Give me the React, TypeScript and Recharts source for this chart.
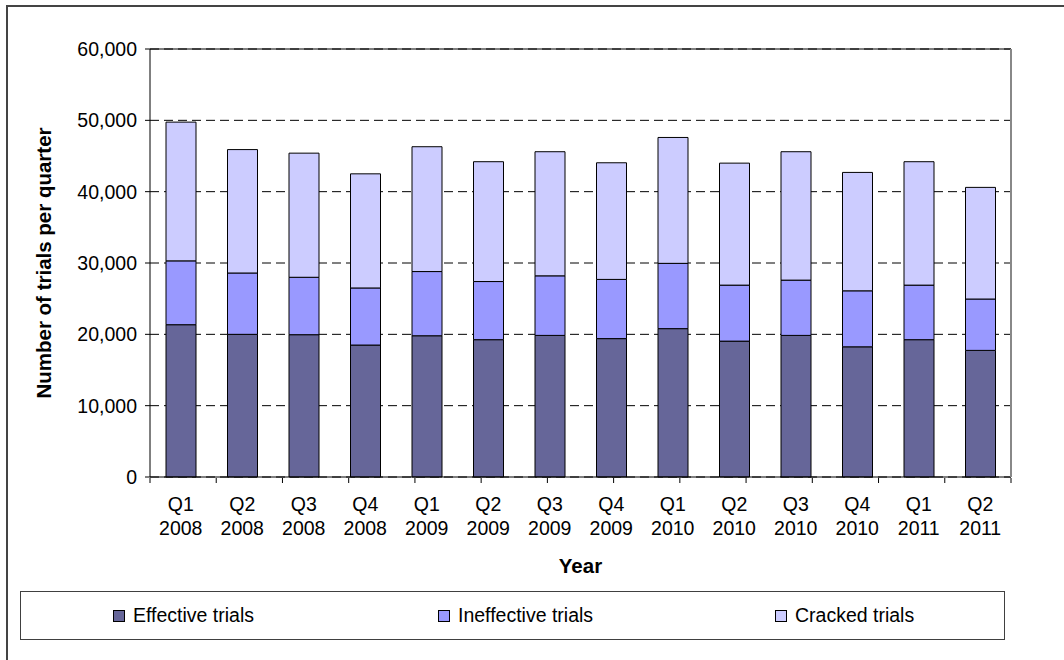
import React from "react";
import {
  BarChart,
  Bar,
  XAxis,
  YAxis,
  CartesianGrid,
  Legend,
  ReferenceLine,
  Label,
} from "recharts";

// Trials per quarter, stacked by outcome (effective / ineffective / cracked).

const FONT = '"Liberation Sans", Arial, Helvetica, sans-serif';

const QUARTERS = [
  "Q1 2008", "Q2 2008", "Q3 2008", "Q4 2008",
  "Q1 2009", "Q2 2009", "Q3 2009", "Q4 2009",
  "Q1 2010", "Q2 2010", "Q3 2010", "Q4 2010",
  "Q1 2011", "Q2 2011",
];

const EFFECTIVE = [
  21350, 20000, 19950, 18500, 19800, 19250, 19850,
  19400, 20800, 19050, 19850, 18250, 19250, 17750,
];
const INEFFECTIVE = [
  8950, 8600, 8050, 8000, 9000, 8150, 8350,
  8300, 9150, 7850, 7750, 7850, 7650, 7200,
];
const CRACKED = [
  19450, 17300, 17400, 16000, 17500, 16800, 17400,
  16350, 17650, 17100, 18000, 16600, 17300, 15650,
];

const Y_TICKS = [0, 10000, 20000, 30000, 40000, 50000, 60000];
// category boundaries, used only for the tick marks between quarters
const EDGE_TICKS = QUARTERS.map((_, i) => i).concat(QUARTERS.length);

const SERIES = [
  { key: "effective", name: "Effective trials", color: "#666699" },
  { key: "ineffective", name: "Ineffective trials", color: "#9999FF" },
  { key: "cracked", name: "Cracked trials", color: "#CCCCFF" },
];
const LEGEND_OFFSETS = [92, 417, 754];

const data = QUARTERS.map((quarter, i) => ({
  quarter,
  effective: EFFECTIVE[i],
  ineffective: INEFFECTIVE[i],
  cracked: CRACKED[i],
}));

const QuarterTick = ({ x, y, payload }: any) => {
  const [q, yr] = String(payload.value).split(" ");
  return (
    <text x={x} y={y} textAnchor="middle" fill="#000" fontSize={19.5} fontFamily={FONT}>
      <tspan x={x} dy={33.5}>{q}</tspan>
      <tspan x={x} dy={24}>{yr}</tspan>
    </text>
  );
};

const NoLabel = () => <g />;

const LegendBox = ({ payload }: any) => {
  // keep the series order rather than the legend's alphabetical one
  const items = SERIES.map((s) => {
    const p = (payload ?? []).find((e: any) => e.value === s.name);
    return { name: s.name, color: p?.color ?? s.color };
  });
  return (
    <div
      style={{
        position: "relative",
        width: "100%",
        height: "100%",
        boxSizing: "border-box",
        border: "1px solid #404040",
        fontFamily: FONT,
        fontSize: 19.5,
        color: "#000",
      }}
    >
      {items.map((it, i) => (
        <div
          key={it.name}
          style={{
            position: "absolute",
            left: LEGEND_OFFSETS[i],
            top: 0,
            height: "100%",
            display: "flex",
            alignItems: "center",
            whiteSpace: "nowrap",
          }}
        >
          <span
            style={{
              display: "inline-block",
              width: 10,
              height: 10,
              background: it.color,
              border: "1px solid #000",
              marginRight: 8,
            }}
          />
          <span>{it.name}</span>
        </div>
      ))}
    </div>
  );
};

export default function App() {
  return (
    <div style={{ position: "absolute", left: 0, top: 0, width: 1064, height: 660, background: "#fff" }}>
      {/* chart frame */}
      <div
        style={{
          position: "absolute",
          left: 6,
          top: 5,
          width: 1064,
          height: 660,
          borderLeft: "2px solid #444",
          borderTop: "2px solid #444",
        }}
      />
      <BarChart
        width={1064}
        height={660}
        data={data}
        margin={{ top: 49, right: 52, bottom: 181, left: 7 }}
        barSize={30}
        style={{ position: "absolute", left: 0, top: 0 }}
      >
        <CartesianGrid
          xAxisId="cat"
          yAxisId="left"
          vertical={false}
          stroke="#000"
          strokeDasharray="9 5"
        />
        <XAxis
          xAxisId="cat"
          dataKey="quarter"
          height={1}
          interval={0}
          tickSize={0}
          tickMargin={0}
          tickLine={false}
          axisLine={{ stroke: "#000" }}
          tick={<QuarterTick />}
        >
          <Label
            content={({ viewBox }: any) => (
              <text
                x={viewBox.x + viewBox.width / 2}
                y={viewBox.y + 88}
                textAnchor="middle"
                dominantBaseline="central"
                fontFamily={FONT}
                fontSize={20.5}
                fontWeight="bold"
                fill="#000"
              >
                Year
              </text>
            )}
          />
        </XAxis>
        <XAxis
          xAxisId="edge"
          type="number"
          domain={[0, QUARTERS.length]}
          ticks={EDGE_TICKS}
          interval={0}
          height={1}
          tick={<NoLabel />}
          tickSize={5}
          tickLine={{ stroke: "#000" }}
          axisLine={false}
        />
        <YAxis
          yAxisId="left"
          width={143}
          domain={[0, 60000]}
          ticks={Y_TICKS}
          interval={0}
          tickSize={5}
          tickMargin={8}
          tickLine={{ stroke: "#000" }}
          axisLine={{ stroke: "#000" }}
          tick={{ fill: "#000", fontSize: 19.5, fontFamily: FONT }}
          tickFormatter={(v: number) => v.toLocaleString("en-US")}
        >
          <Label
            content={({ viewBox }: any) => {
              const cx = viewBox.x + 36;
              const cy = viewBox.y + viewBox.height / 2;
              return (
                <text
                  x={cx}
                  y={cy}
                  transform={`rotate(-90 ${cx} ${cy})`}
                  textAnchor="middle"
                  dominantBaseline="central"
                  fontFamily={FONT}
                  fontSize={20.5}
                  fontWeight="bold"
                  fill="#000"
                >
                  Number of trials per quarter
                </text>
              );
            }}
          />
        </YAxis>
        <YAxis
          yAxisId="right"
          orientation="right"
          width={1}
          domain={[0, 60000]}
          tick={false}
          tickLine={false}
          axisLine={{ stroke: "#888", strokeWidth: 2 }}
        />
        <ReferenceLine xAxisId="cat" yAxisId="left" y={60000} stroke="#000" strokeWidth={1} />
        {SERIES.map((s) => (
          <Bar
            key={s.key}
            xAxisId="cat"
            yAxisId="left"
            dataKey={s.key}
            name={s.name}
            stackId="trials"
            fill={s.color}
            stroke="#000"
            strokeWidth={1}
            isAnimationActive={false}
          />
        ))}
        <Legend
          layout="horizontal"
          verticalAlign="middle"
          align="center"
          wrapperStyle={{ left: 20, top: 591, width: 985, height: 49 }}
          content={<LegendBox />}
        />
      </BarChart>
    </div>
  );
}
